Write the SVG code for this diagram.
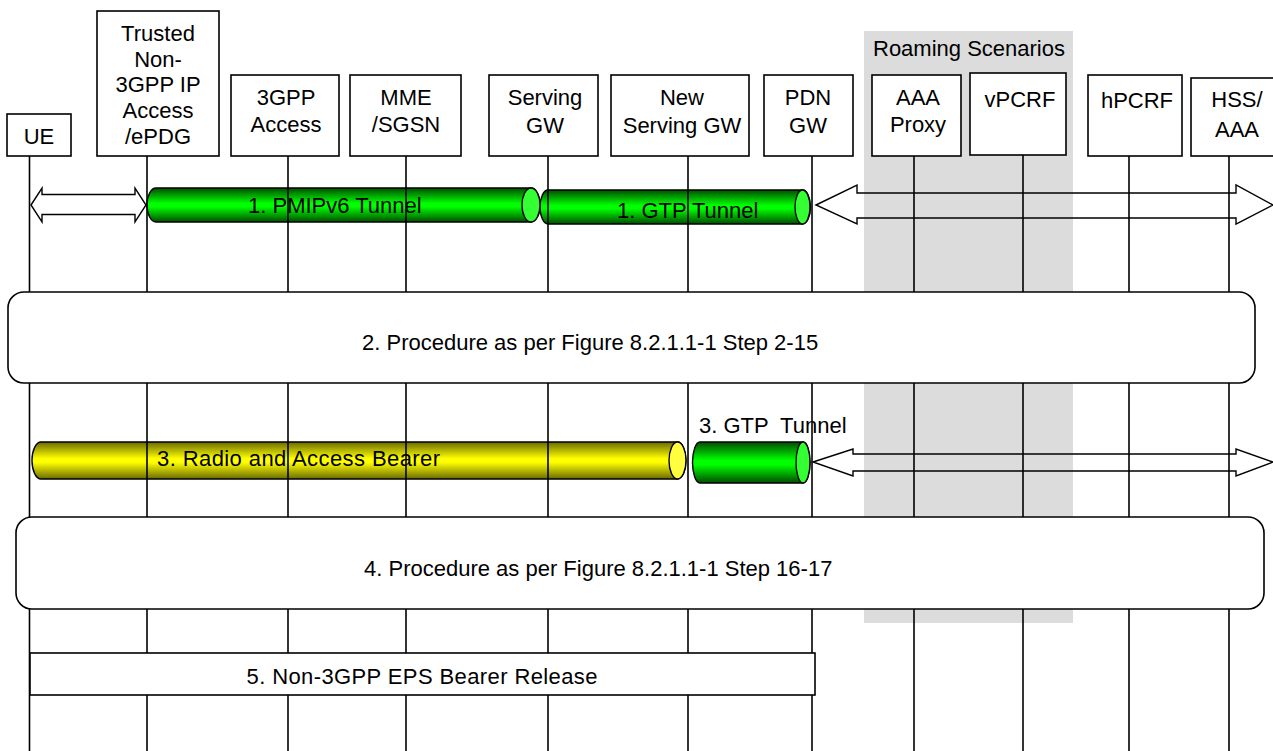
<svg xmlns="http://www.w3.org/2000/svg" width="1273" height="751" viewBox="0 0 1273 751">
<style>
.box{fill:#fff;stroke:#000;stroke-width:1.6}
.life{stroke:#000;stroke-width:1.6;fill:none}
.t{font-family:"Liberation Sans",Arial,sans-serif;font-size:22px;fill:#000}
.m{text-anchor:middle}
.arr{fill:none;stroke:#000;stroke-width:1.4}
.cyl{stroke:#000;stroke-width:1.4}
</style>
<defs>
<linearGradient id="gGreen" x1="0" y1="0" x2="0" y2="1">
<stop offset="0" stop-color="#004d00"/>
<stop offset="0.45" stop-color="#00ff00"/>
<stop offset="0.55" stop-color="#00ff00"/>
<stop offset="1" stop-color="#004d00"/>
</linearGradient>
<linearGradient id="gYellow" x1="0" y1="0" x2="0" y2="1">
<stop offset="0" stop-color="#6b6b00"/>
<stop offset="0.45" stop-color="#ffff00"/>
<stop offset="0.55" stop-color="#ffff00"/>
<stop offset="1" stop-color="#6b6b00"/>
</linearGradient>
</defs>
<rect width="1273" height="751" fill="#fff"/>
<g id="roaming">
<rect x="864" y="31" width="209" height="592" fill="#dcdcdc"/>
<text class="t" x="873" y="56">Roaming Scenarios</text>
</g>
<g id="ue"><rect class="box" x="7" y="114" width="64" height="42"/><text class="t m" x="39" y="144">UE</text></g>
<g id="trusted"><rect class="box" x="97" y="11" width="122" height="145"/>
<text class="t m" x="158" y="41">Trusted</text><text class="t m" x="158" y="67">Non-</text><text class="t m" x="158" y="92">3GPP IP</text><text class="t m" x="158" y="118">Access</text><text class="t m" x="158" y="144">/ePDG</text></g>
<g id="access3gpp"><rect class="box" x="231" y="75" width="108" height="81"/><text class="t m" x="286" y="105">3GPP</text><text class="t m" x="286" y="132">Access</text></g>
<g id="mme"><rect class="box" x="350" y="75" width="111" height="81"/><text class="t m" x="406" y="105">MME</text><text class="t m" x="406" y="132">/SGSN</text></g>
<g id="sgw"><rect class="box" x="489" y="75" width="109" height="81"/><text class="t m" x="545" y="105">Serving</text><text class="t m" x="545" y="133">GW</text></g>
<g id="newsgw"><rect class="box" x="611" y="75" width="138" height="81"/><text class="t m" x="682" y="105">New</text><text class="t m" x="682" y="133">Serving GW</text></g>
<g id="pdngw"><rect class="box" x="764" y="75" width="89" height="81"/><text class="t m" x="808" y="105">PDN</text><text class="t m" x="808" y="133">GW</text></g>
<g id="aaaproxy"><rect class="box" x="872" y="75" width="89" height="81"/><text class="t m" x="918" y="105">AAA</text><text class="t m" x="918" y="132">Proxy</text></g>
<g id="vpcrf"><rect class="box" x="970" y="73" width="96" height="82"/><text class="t m" x="1020" y="107">vPCRF</text></g>
<g id="hpcrf"><rect class="box" x="1088" y="75" width="94" height="81"/><text class="t m" x="1137" y="108">hPCRF</text></g>
<g id="hssaaa"><rect class="box" x="1191" y="78" width="90" height="78"/><text class="t m" x="1237" y="107">HSS/</text><text class="t m" x="1237" y="137">AAA</text></g>

<g id="tunnels">
<g id="gtp1">
<path class="cyl" fill="url(#gGreen)" d="M548,190 L802.5,190 A8,17 0 0 1 802.5,224 L548,224 A8,17 0 0 1 548,190 Z"/>
<ellipse class="cyl" cx="802.5" cy="207" rx="7.5" ry="17" fill="#33ff33"/>
<text class="t" x="617" y="218">1. GTP Tunnel</text>
</g>
<g id="pmip">
<path class="cyl" fill="url(#gGreen)" d="M156,188 L531,188 A9,17 0 0 1 531,222 L156,222 A9,17 0 0 1 156,188 Z"/>
<ellipse class="cyl" cx="531" cy="205" rx="9" ry="17" fill="#33ff33"/>
<text class="t" x="248" y="213">1. PMIPv6 Tunnel</text>
</g>
<g id="radio">
<path class="cyl" fill="url(#gYellow)" d="M41,442 L677.5,442 A8.5,18.5 0 0 1 677.5,479 L41,479 A9,18.5 0 0 1 41,442 Z"/>
<ellipse class="cyl" cx="677.5" cy="460.5" rx="8.5" ry="18.5" fill="#ffff40"/>
<text class="t" x="157" y="466" textLength="283">3. Radio and Access Bearer</text>
</g>
<g id="gtp3">
<path class="cyl" fill="url(#gGreen)" d="M700,442 L803,442 A7,20.5 0 0 1 803,483 L700,483 A7.5,20.5 0 0 1 700,442 Z"/>
<ellipse class="cyl" cx="803" cy="462.5" rx="7" ry="20.5" fill="#33ff33"/>
<text class="t" x="699" y="433" xml:space="preserve">3. GTP  Tunnel</text>
</g>
</g>

<g id="lifelines">
<line class="life" x1="29.5" y1="156" x2="29.5" y2="751"/>
<line class="life" x1="147" y1="156" x2="147" y2="751"/>
<line class="life" x1="288" y1="156" x2="288" y2="751"/>
<line class="life" x1="406" y1="156" x2="406" y2="751"/>
<line class="life" x1="548" y1="156" x2="548" y2="751"/>
<line class="life" x1="688" y1="156" x2="688" y2="751"/>
<line class="life" x1="812" y1="156" x2="812" y2="751"/>
<line class="life" x1="914" y1="156" x2="914" y2="751"/>
<line class="life" x1="1023" y1="155" x2="1023" y2="751"/>
<line class="life" x1="1129" y1="156" x2="1129" y2="751"/>
<line class="life" x1="1229" y1="156" x2="1229" y2="751"/>
</g>

<g id="connectors">
<polygon class="arr" points="31,205 42,188 42,194.5 135,194.5 135,188 146,205 135,222 135,214.5 42,214.5 42,222"/>
<polygon class="arr" points="816,205 857,185 857,193 1236,193 1236,185 1273,205 1236,224 1236,218 857,218 857,224"/>
<polygon class="arr" points="813,462 853,449 853,454 1236,454 1236,449 1273,462 1236,476 1236,471 853,471 853,476"/>
</g>

<g id="step2"><rect class="box" x="8" y="292" width="1247" height="91" rx="16" ry="16"/><text class="t" x="362" y="350">2. Procedure as per Figure 8.2.1.1-1 Step 2-15</text></g>
<g id="step4"><rect class="box" x="16" y="517" width="1248" height="92" rx="16" ry="16"/><text class="t" x="364" y="576">4. Procedure as per Figure 8.2.1.1-1 Step 16-17</text></g>
<g id="step5"><rect class="box" x="30" y="653" width="785" height="42"/><text class="t m" x="422" y="684" textLength="351">5. Non-3GPP EPS Bearer Release</text></g>
</svg>
